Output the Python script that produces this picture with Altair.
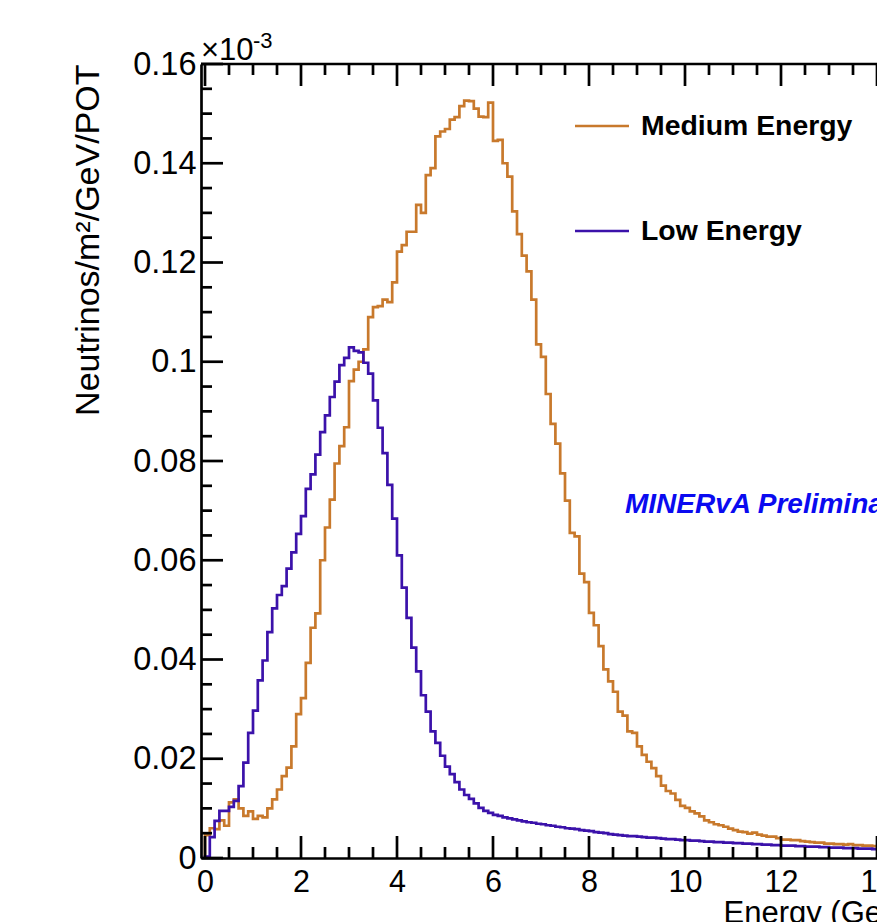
import altair as alt
import numpy as np
import pandas as pd

# ---------------- data ----------------
bin_width = 0.1  # GeV
series_names = ["Medium Energy", "Low Energy"]
series_colors = ["#c8792c", "#3b12aa"]

me_flux = [
    0.0046, 0.0060, 0.0058, 0.0076, 0.0065, 0.0112, 0.0118, 0.0100, 0.0085, 0.0094,
    0.0079, 0.0085, 0.0082, 0.0100, 0.0118, 0.0138, 0.0165, 0.0182, 0.0225, 0.0290,
    0.0322, 0.0393, 0.0464, 0.0493, 0.0600, 0.0666, 0.0722, 0.0795, 0.0830, 0.0868,
    0.0961, 0.0984, 0.1000, 0.1025, 0.1090, 0.1110, 0.1112, 0.1125, 0.1120, 0.1160,
    0.1222, 0.1235, 0.1262, 0.1262, 0.1316, 0.1300, 0.1376, 0.1390, 0.1454, 0.1464,
    0.1469, 0.1488, 0.1493, 0.1515, 0.1526, 0.1525, 0.1510, 0.1494, 0.1493, 0.1522,
    0.1445, 0.1447, 0.1400, 0.1373, 0.1303, 0.1257, 0.1214, 0.1182, 0.1125, 0.1035,
    0.1010, 0.0935, 0.0875, 0.0835, 0.0775, 0.0720, 0.0655, 0.0648, 0.0573, 0.0556,
    0.0494, 0.0469, 0.0427, 0.0380, 0.0356, 0.0335, 0.0295, 0.0287, 0.0255, 0.0252,
    0.0225, 0.0208, 0.0194, 0.0181, 0.0165, 0.0146, 0.0135, 0.0130, 0.0117, 0.0105,
    0.0101, 0.0094, 0.0090, 0.0084, 0.0076, 0.0072, 0.0068, 0.0066, 0.0063, 0.0059,
    0.0056, 0.0053, 0.0052, 0.0049, 0.0051, 0.0047, 0.0045, 0.0043, 0.0043, 0.0040,
    0.0037, 0.0037, 0.0036, 0.0036, 0.0034, 0.0033, 0.0032, 0.0031, 0.0031, 0.0029,
    0.0029, 0.0028, 0.0028, 0.0027, 0.0028, 0.0026, 0.0026, 0.0025, 0.0025, 0.0024,
    0.0024, 0.0024,
]

le_flux = [
    0.0003, 0.0042, 0.0075, 0.0095, 0.0095, 0.0103, 0.0115, 0.0145, 0.0192, 0.0252,
    0.0297, 0.0358, 0.0398, 0.0455, 0.0503, 0.0530, 0.0548, 0.0583, 0.0616, 0.0653,
    0.0689, 0.0744, 0.0773, 0.0813, 0.0858, 0.0892, 0.0929, 0.0960, 0.0993, 0.1008,
    0.1029, 0.1022, 0.1019, 0.0998, 0.0976, 0.0922, 0.0867, 0.0816, 0.0752, 0.0684,
    0.0610, 0.0545, 0.0484, 0.0424, 0.0376, 0.0328, 0.0295, 0.0255, 0.0232, 0.0206,
    0.0184, 0.0169, 0.0153, 0.0138, 0.0127, 0.0119, 0.0110, 0.0101, 0.0095, 0.0091,
    0.0087, 0.0085, 0.0082, 0.0080, 0.0078, 0.0076, 0.0074, 0.0072, 0.0071, 0.0069,
    0.0068, 0.0066, 0.0065, 0.0063, 0.0062, 0.0060, 0.0059, 0.0058, 0.0056, 0.0055,
    0.0054, 0.0052, 0.0051, 0.0050, 0.0048, 0.0047, 0.0046, 0.0045, 0.0044, 0.0044,
    0.0043, 0.0042, 0.0041, 0.0041, 0.0040, 0.0039, 0.0038, 0.0038, 0.0037, 0.0036,
    0.0036, 0.0035, 0.0035, 0.0034, 0.0033, 0.0033, 0.0032, 0.0032, 0.0031, 0.0031,
    0.0030, 0.0030, 0.0029, 0.0029, 0.0028, 0.0028, 0.0027, 0.0027, 0.0026, 0.0026,
    0.0025, 0.0025, 0.0025, 0.0024, 0.0024, 0.0023, 0.0023, 0.0023, 0.0022, 0.0022,
    0.0021, 0.0021, 0.0021, 0.0020, 0.0020, 0.0020, 0.0019, 0.0019, 0.0019, 0.0018,
    0.0018, 0.0018,
]

x_major_ticks = [0, 2, 4, 6, 8, 10, 12, 14]
x_minor_ticks = [0.5, 1, 1.5, 2.5, 3, 3.5, 4.5, 5, 5.5, 6.5, 7, 7.5,
                 8.5, 9, 9.5, 10.5, 11, 11.5, 12.5, 13, 13.5]
y_major_ticks = [0, 0.02, 0.04, 0.06, 0.08, 0.10, 0.12, 0.14, 0.16]
y_minor_ticks = [0.005, 0.01, 0.015, 0.025, 0.03, 0.035, 0.045, 0.05, 0.055,
                 0.065, 0.07, 0.075, 0.085, 0.09, 0.095, 0.105, 0.11, 0.115,
                 0.125, 0.13, 0.135, 0.145, 0.15, 0.155]

x_title = "Energy (GeV)"
y_title = "Neutrinos/m\u00b2/GeV/POT"
exp_base = "\u00d710"
exp_power = "-3"
watermark = "MINERvA Preliminary"

# ---------------- layout / style ----------------
FONT = "Liberation Sans"
PLOT_W = 676          # svg stays within the page body (869 px wide)
PLOT_H = 794
PX_PER_GEV = 48.0
X_LO = -4 / PX_PER_GEV
X_HI = X_LO + PLOT_W / PX_PER_GEV
LW = 2.7

xscale = alt.Scale(domain=[X_LO, X_HI], nice=False, zero=False)
yscale = alt.Scale(domain=[0, 0.16], nice=False, zero=False)

x_axis = alt.Axis(
    values=x_major_ticks, ticks=False, tickSize=0, grid=False,
    domain=True, domainColor="black", domainWidth=LW,
    labelFont=FONT, labelFontSize=30.5, labelColor="black",
    labelPadding=24, labelBaseline="middle", labelFlush=False,
    labelOverlap=False,
    title=x_title, titleFont=FONT, titleFontSize=31, titleFontWeight="normal",
    titleColor="black", titleAlign="left", titleBaseline="alphabetic",
    titleX=522, titleY=64,
)
y_axis = alt.Axis(
    values=y_major_ticks, format="~g", ticks=False, tickSize=0, grid=False,
    domain=True, domainColor="black", domainWidth=LW,
    labelFont=FONT, labelFontSize=32.5, labelColor="black",
    labelPadding=5, labelFlush=False, labelOverlap=False,
    title=y_title, titleFont=FONT, titleFontSize=34, titleFontWeight="normal",
    titleColor="black", titleAngle=270, titleAlign="right",
    titleBaseline="middle", titleX=-113, titleY=0,
)

# ---------------- histogram outlines ----------------
rows = []
for name, vals in zip(series_names, [me_flux, le_flux]):
    n = len(vals)
    edges = np.round(np.arange(n + 1) * bin_width, 6)
    rows.append({"series": name, "E": 0.0, "flux": 0.0, "order": 0})
    for k, v in enumerate(vals):
        rows.append({"series": name, "E": float(edges[k]), "flux": v, "order": k + 1})
    rows.append({"series": name, "E": float(edges[n]), "flux": vals[-1], "order": n + 1})
hist_df = pd.DataFrame(rows)

color_scale = alt.Scale(domain=series_names, range=series_colors)

layers = []
for name in series_names:
    layers.append(
        alt.Chart(hist_df)
        .transform_filter(alt.datum.series == name)
        .mark_line(interpolate="step-after", strokeWidth=LW, clip=True)
        .encode(
            x=alt.X("E:Q", scale=xscale, axis=x_axis),
            y=alt.Y("flux:Q", scale=yscale, axis=y_axis),
            color=alt.Color("series:N", scale=color_scale, legend=None),
            order=alt.Order("order:Q"),
        )
    )

# ---------------- inward ticks (ROOT style) ----------------
def xticks(values, length, top):
    df = pd.DataFrame({"v": values})
    if top:
        yv, y2v = 0, length
    else:
        yv, y2v = PLOT_H, PLOT_H - length
    return alt.Chart(df).mark_rule(color="black", strokeWidth=LW).encode(
        x=alt.X("v:Q", scale=xscale, axis=x_axis),
        y=alt.value(yv), y2=alt.value(y2v),
    )

def yticks(values, length):
    df = pd.DataFrame({"v": values})
    return alt.Chart(df).mark_rule(color="black", strokeWidth=LW).encode(
        y=alt.Y("v:Q", scale=yscale, axis=y_axis),
        x=alt.value(0), x2=alt.value(length),
    )

layers += [
    xticks(x_major_ticks, 22, False),
    xticks(x_minor_ticks, 11, False),
    xticks(x_major_ticks, 22, True),
    xticks(x_minor_ticks, 11, True),
    yticks(y_major_ticks, 22),
    yticks(y_minor_ticks, 11),
]

# top frame line
layers.append(
    alt.Chart(pd.DataFrame({"v": [0]})).mark_rule(color="black", strokeWidth=LW).encode(
        x=alt.value(0), x2=alt.value(PLOT_W), y=alt.value(0)
    )
)

# ---------------- texts ----------------
def text_layer(txt, x, y, size, **kw):
    return alt.Chart(pd.DataFrame({"t": [txt]})).mark_text(
        font=FONT, fontSize=size, **kw
    ).encode(text="t:N", x=alt.value(x), y=alt.value(y))

layers.append(text_layer(exp_base, 0, -4, 31, align="left", baseline="alphabetic", color="black"))
layers.append(text_layer(exp_power, 52, -16, 22, align="left", baseline="alphabetic", color="black"))
layers.append(text_layer(watermark, 424, 441, 28, align="left", baseline="middle",
                         color="#0a0af0", fontWeight="bold", fontStyle="italic"))

# legend (manual, ROOT TLegend style)
for i, (name, col) in enumerate(zip(series_names, series_colors)):
    yy = 62 + 105 * i
    layers.append(
        alt.Chart(pd.DataFrame({"s": [name]})).mark_rule(color=col, strokeWidth=LW).encode(
            x=alt.value(374), x2=alt.value(428), y=alt.value(yy)
        )
    )
    layers.append(text_layer(name, 440, yy, 28.4, align="left", baseline="middle",
                             color="black", fontWeight="bold"))

chart = (
    alt.layer(*layers)
    .properties(
        width=PLOT_W, height=PLOT_H,
        autosize=alt.AutoSizeParams(type="none"),
        padding={"left": 193, "top": 56, "right": 0, "bottom": 64},
        background="white",
    )
    .configure_view(strokeWidth=0)
)

chart.save("out.html", embed_options={"renderer": "svg", "actions": False})
